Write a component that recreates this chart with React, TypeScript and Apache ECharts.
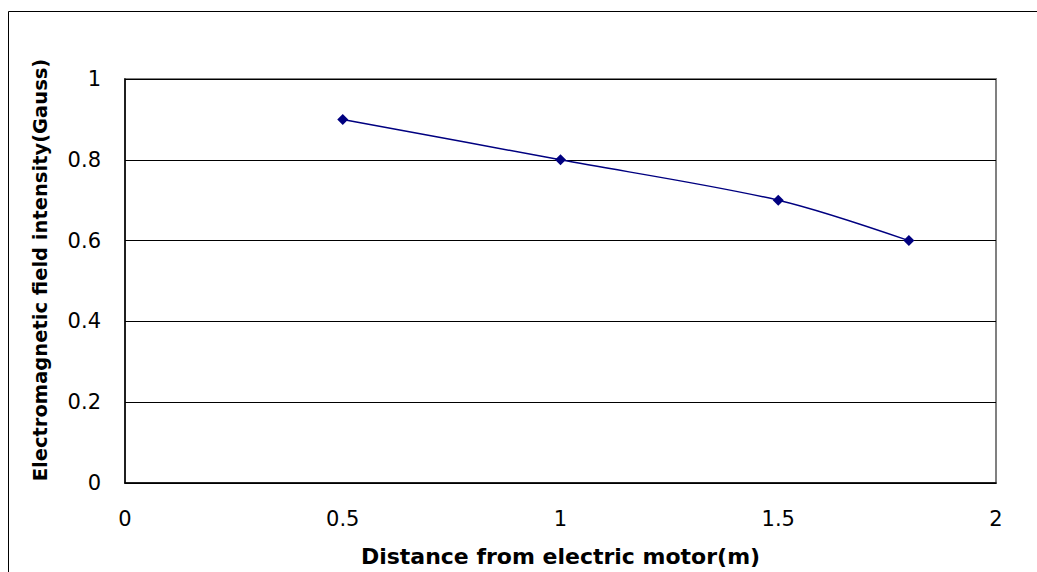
import React, { useEffect, useRef } from "react";
import * as echarts from "echarts";

const distances = [0.5, 1, 1.5, 1.8];
const intensities = [0.9, 0.8, 0.7, 0.6];
const xTitle = "Distance from electric motor(m)";
const yTitle = "Electromagnetic field intensity(Gauss)";

export default function App() {
  const ref = useRef<HTMLDivElement>(null);
  useEffect(() => {
    if (!ref.current) return;
    const chart = echarts.init(ref.current, null, { renderer: "svg" });
    const font = "'DejaVu Sans', sans-serif";
    chart.setOption({
      animation: false,
      backgroundColor: "#ffffff",
      graphic: [
        {
          type: "rect",
          shape: { x: 8.5, y: 11.5, width: 1100, height: 700 },
          style: { fill: "none", stroke: "#000", lineWidth: 1 },
          silent: true,
        },
        {
          type: "rect",
          shape: { x: 125, y: 79, width: 871, height: 404 },
          style: { fill: "none", stroke: "#808080", lineWidth: 2 },
          silent: true,
          z: -1,
        },
      ],
      grid: {
        left: 125,
        top: 79,
        right: 41,
        bottom: 89,
        containLabel: false,
        outerBoundsMode: "none",
      },
      xAxis: {
        type: "value",
        min: 0,
        max: 2,
        interval: 0.5,
        name: xTitle,
        nameLocation: "middle",
        nameGap: 62,
        nameTextStyle: { fontFamily: font, fontSize: 22, fontWeight: "bold", color: "#000" },
        axisLine: { show: true, onZero: false, lineStyle: { color: "#000", width: 1.5 } },
        axisTick: { show: false },
        axisLabel: { fontFamily: font, fontSize: 21, color: "#000", margin: 25 },
        splitLine: { show: false },
      },
      yAxis: {
        type: "value",
        min: 0,
        max: 1,
        interval: 0.2,
        name: yTitle,
        nameLocation: "middle",
        nameGap: 75,
        nameTextStyle: {
          fontFamily: font,
          fontSize: 19.5,
          fontWeight: "bold",
          color: "#000",
          padding: [0, 0, 0, 22],
        },
        axisLine: { show: true, lineStyle: { color: "#000", width: 1.5 } },
        axisTick: { show: false },
        axisLabel: { fontFamily: font, fontSize: 21, color: "#000", margin: 24 },
        splitLine: { show: true, lineStyle: { color: "#000", width: 1 } },
      },
      series: [
        {
          type: "line",
          data: distances.map((d, i) => [d, intensities[i]]),
          smooth: 0.3,
          symbol: "diamond",
          symbolSize: 11,
          itemStyle: { color: "#000080" },
          lineStyle: { color: "#000080", width: 1.5 },
        },
      ],
    });
    return () => chart.dispose();
  }, []);
  return (
    <div
      ref={ref}
      style={{ position: "absolute", left: 0, top: 0, width: 1037, height: 572 }}
    />
  );
}
